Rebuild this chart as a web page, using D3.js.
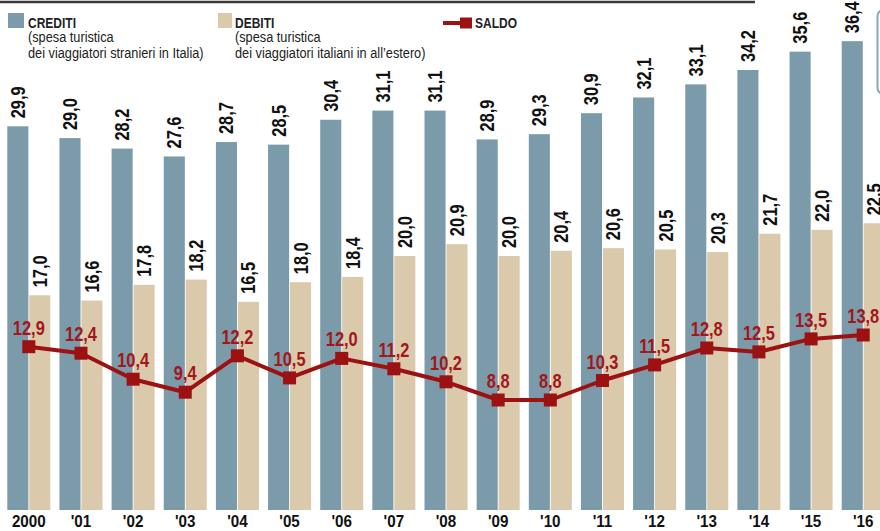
<!DOCTYPE html>
<html><head><meta charset="utf-8">
<script src="https://cdn.jsdelivr.net/npm/d3@7"></script>
<style>
html,body{margin:0;padding:0;background:#fff;}
svg{display:block;}
</style></head>
<body>
<svg id="chart" width="880" height="531"></svg>
<script>
const years = ["2000","'01","'02","'03","'04","'05","'06","'07","'08","'09","'10","'11","'12","'13","'14","'15","'16"];
const crediti = [29.9,29.0,28.2,27.6,28.7,28.5,30.4,31.1,31.1,28.9,29.3,30.9,32.1,33.1,34.2,35.6,36.4];
const debiti  = [17.0,16.6,17.8,18.2,16.5,18.0,18.4,20.0,20.9,20.0,20.4,20.6,20.5,20.3,21.7,22.0,22.5];
const saldo   = [12.9,12.4,10.4,9.4,12.2,10.5,12.0,11.2,10.2,8.8,8.8,10.3,11.5,12.8,12.5,13.5,13.8];
const seriesKeys = ["crediti","debiti"];

const C_BLUE = "#7b9aaa", C_BEIGE = "#dbc9ac", C_RED = "#9c1112", C_RED_TXT = "#a3161a";
const FONT = "'Liberation Sans',Arial,Helvetica,sans-serif";
const fmt = v => v.toFixed(1).replace(".",",");

const svg = d3.select("#chart");
svg.append("rect").attr("width",880).attr("height",531).attr("fill","#fff");

const data = years.map((y,i)=>({year:y, crediti:crediti[i], debiti:debiti[i], saldo:saldo[i]}));

const x0 = d3.scaleBand().domain(years).range([2.74, 2.74 + 17*52.15]).paddingInner(0.175).paddingOuter(0.0875);
const x1 = d3.scaleBand().domain(seriesKeys).range([0, x0.bandwidth()]).paddingInner(0.04);
const y = d3.scaleLinear().domain([0,40]).range([518, 518 - 40*13.1]);
const ys = d3.scaleLinear().domain([0,40]).range([514.4, 514.4 - 40*13.0]);
const bottom = 510;
const color = {crediti: C_BLUE, debiti: C_BEIGE};

// top rule
svg.append("line").attr("x1",0).attr("x2",755).attr("y1",2).attr("y2",2)
  .attr("stroke","#3a3a3a").attr("stroke-width",2.6);
// partial box at right edge
svg.append("rect").attr("x",877.5).attr("y",10).attr("width",30).attr("height",84).attr("rx",6)
  .attr("fill","#fff").attr("stroke","#8aa8b8").attr("stroke-width",2);

const g = svg.append("g");
const groups = g.selectAll("g.grp").data(data).join("g").attr("class","grp")
  .attr("transform", d=>`translate(${x0(d.year)},0)`);

groups.selectAll("rect").data(d=>seriesKeys.map(k=>({k, v:d[k]}))).join("rect")
  .attr("x", d=>x1(d.k)).attr("width", x1.bandwidth())
  .attr("y", d=>y(d.v)).attr("height", d=>bottom - y(d.v))
  .attr("fill", d=>color[d.k]);

groups.selectAll("text.val").data(d=>seriesKeys.map(k=>({k, v:d[k]}))).join("text")
  .attr("class","val")
  .attr("transform", d=>`translate(${x1(d.k)+x1.bandwidth()/2+7},${y(d.v)-8}) rotate(-90) scale(0.82,1)`)
  .attr("font-family",FONT).attr("font-weight","bold").attr("font-size",20)
  .attr("fill","#111").text(d=>fmt(d.v));

// year labels
svg.append("g").selectAll("text").data(years).join("text")
  .attr("transform", d=>`translate(${x0(d)+x0.bandwidth()/2},527) scale(0.95,1)`)
  .attr("text-anchor","middle").attr("font-family",FONT).attr("font-weight","bold")
  .attr("font-size",16).attr("fill","#111").text(d=>d);

// saldo line
const cx = d=>x0(d.year)+x0.bandwidth()/2;
svg.append("path").datum(data)
  .attr("d", d3.line().x(cx).y(d=>ys(d.saldo)))
  .attr("fill","none").attr("stroke",C_RED).attr("stroke-width",4).attr("stroke-linejoin","round");
svg.append("g").selectAll("rect").data(data).join("rect")
  .attr("x", d=>cx(d)-6.5).attr("y", d=>ys(d.saldo)-6.5).attr("width",13).attr("height",13)
  .attr("fill",C_RED);
svg.append("g").selectAll("text").data(data).join("text")
  .attr("transform", d=>`translate(${cx(d)},${ys(d.saldo)-12}) scale(0.82,1)`)
  .attr("text-anchor","middle").attr("font-family",FONT).attr("font-weight","bold")
  .attr("font-size",20).attr("fill",C_RED_TXT).text(d=>fmt(d.saldo));

// legend
const leg = svg.append("g").attr("font-family",FONT).attr("fill","#222");
function legText(x, yy, txt, bold){
  leg.append("text").attr("transform",`translate(${x},${yy}) scale(${bold?0.8:0.85},1)`)
    .attr("font-weight", bold?"bold":"normal").attr("font-size",15).text(txt);
}
leg.append("rect").attr("x",8).attr("y",13).attr("width",16).attr("height",15).attr("fill",C_BLUE);
legText(28,27.5,"CREDITI",true);
legText(28,42,"(spesa turistica",false);
legText(28,57.5,"dei viaggiatori stranieri in Italia)",false);
leg.append("rect").attr("x",218).attr("y",13).attr("width",14).attr("height",15).attr("fill",C_BEIGE);
legText(235,27.5,"DEBITI",true);
legText(235,42,"(spesa turistica",false);
legText(235,57.5,"dei viaggiatori italiani in all\u2019estero)",false);
leg.append("line").attr("x1",443).attr("x2",464).attr("y1",23).attr("y2",23).attr("stroke",C_RED).attr("stroke-width",4);
leg.append("rect").attr("x",460).attr("y",17.5).attr("width",12).attr("height",11).attr("fill",C_RED);
legText(475,27.5,"SALDO",true);
</script>
</body></html>
